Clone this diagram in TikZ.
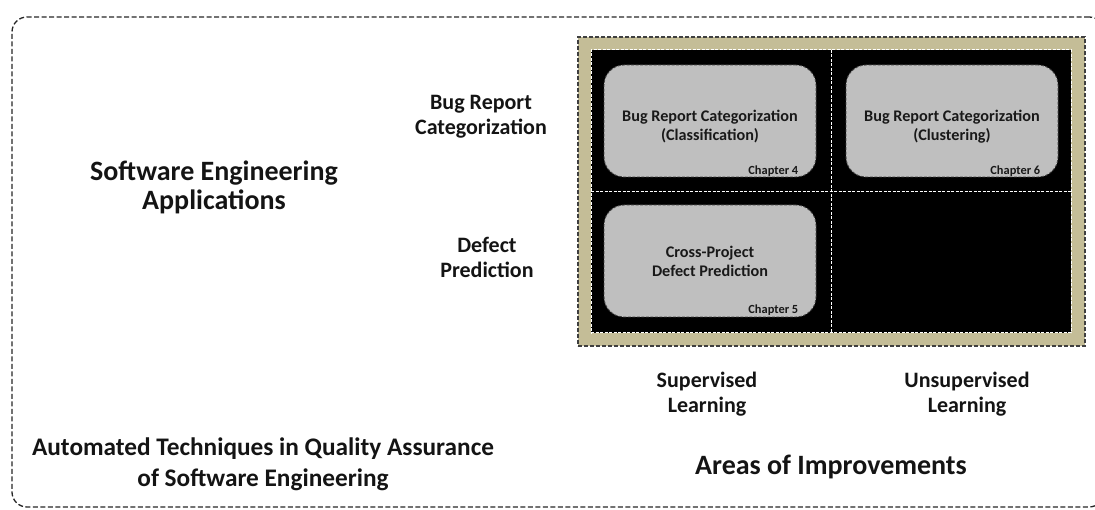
\documentclass[tikz,border=0pt]{standalone}
\usepackage{fontspec}
\setmainfont{Carlito}
\definecolor{tanfill}{HTML}{C4BD97}
\definecolor{cellgray}{HTML}{BFBFBF}
\definecolor{edgegray}{HTML}{3F3F3F}
\tikzset{
  frameline/.style={draw=black!85, line width=1.3pt, dash pattern=on 5pt off 2.5pt,
    rounded corners=15pt, inner sep=0pt, outer sep=0pt},
  tanpanel/.style={fill=tanfill, draw=edgegray, line width=1.3pt,
    dash pattern=on 4pt off 2pt, inner sep=0pt, outer sep=0pt},
  gridpanel/.style={fill=black, draw=white, line width=1pt,
    dash pattern=on 3pt off 1.5pt, inner sep=0pt, outer sep=0pt},
  whiteline/.style={draw=white, line width=1pt, dash pattern=on 3pt off 1.5pt},
  topicbox/.style={fill=cellgray, draw=edgegray, line width=0.9pt,
    dash pattern=on 3pt off 1.5pt, rounded corners=20pt,
    minimum width=212pt, minimum height=112pt, inner sep=0pt,
    align=center, font=\bfseries\fontsize{16.2}{19}\selectfont, text=black!90},
  chaptag/.style={anchor=base east, inner sep=0pt,
    font=\bfseries\fontsize{12.4}{14}\selectfont, text=black!90},
  biglabel/.style={align=center, inner sep=0pt,
    font=\bfseries\fontsize{28}{29}\selectfont, text=black!92},
  midlabel/.style={align=center, inner sep=0pt,
    font=\bfseries\fontsize{25.3}{31}\selectfont, text=black!92},
  axislabel/.style={align=center, inner sep=0pt,
    font=\bfseries\fontsize{22}{25}\selectfont, text=black!92},
}
\begin{document}
\begin{tikzpicture}[x=1pt,y=-1pt]
  \useasboundingbox (0,0) rectangle (1095,510);
  \clip (0,0) rectangle (1095,510);

  % outer dashed frame (runs past the right edge)
  \node[frameline, minimum width=1092pt, minimum height=490pt] (frame) at (558,262) {};

  % tan panel and the black 2x2 grid
  \node[tanpanel, minimum width=507pt, minimum height=309pt] (tan) at (831.5,191.5) {};
  \node[gridpanel, minimum width=480pt, minimum height=283pt] (grid) at (831,191.5) {};
  \draw[whiteline] (grid.north) -- (grid.south);
  \draw[whiteline] (grid.west) -- (grid.east);

  % topic boxes
  \node[topicbox] (cls) at (710,121) {\\[4pt]Bug Report Categorization\\(Classification)};
  \node[topicbox] (clu) at (952,121) {\\[4pt]Bug Report Categorization\\(Clustering)};
  \node[topicbox] (cpdp) at (710,261) {Cross-Project\\Defect Prediction};
  \node[chaptag] (ch4) at ([xshift=-18pt,yshift=3pt]cls.south east) {Chapter 4};
  \node[chaptag] (ch6) at ([xshift=-18pt,yshift=3pt]clu.south east) {Chapter 6};
  \node[chaptag] (ch5) at ([xshift=-18pt,yshift=4pt]cpdp.south east) {Chapter 5};

  % row labels
  \node[axislabel] (rowbug) at (481,117) {Bug Report\\Categorization};
  \node[axislabel] (rowdef) at (487,257) {Defect\\Prediction};

  % column labels
  \node[axislabel] (colsup) at (707,394) {Supervised\\Learning};
  \node[axislabel] (colunsup) at (967,394) {Unsupervised\\Learning};

  % headings
  \node[biglabel] (seapp) at (214,187) {Software Engineering\\Applications};
  \node[midlabel] (atqa) at (263,464) {Automated Techniques in Quality Assurance\\of Software Engineering};
  \node[biglabel] (areas) at (831,467) {Areas of Improvements};
\end{tikzpicture}
\end{document}
